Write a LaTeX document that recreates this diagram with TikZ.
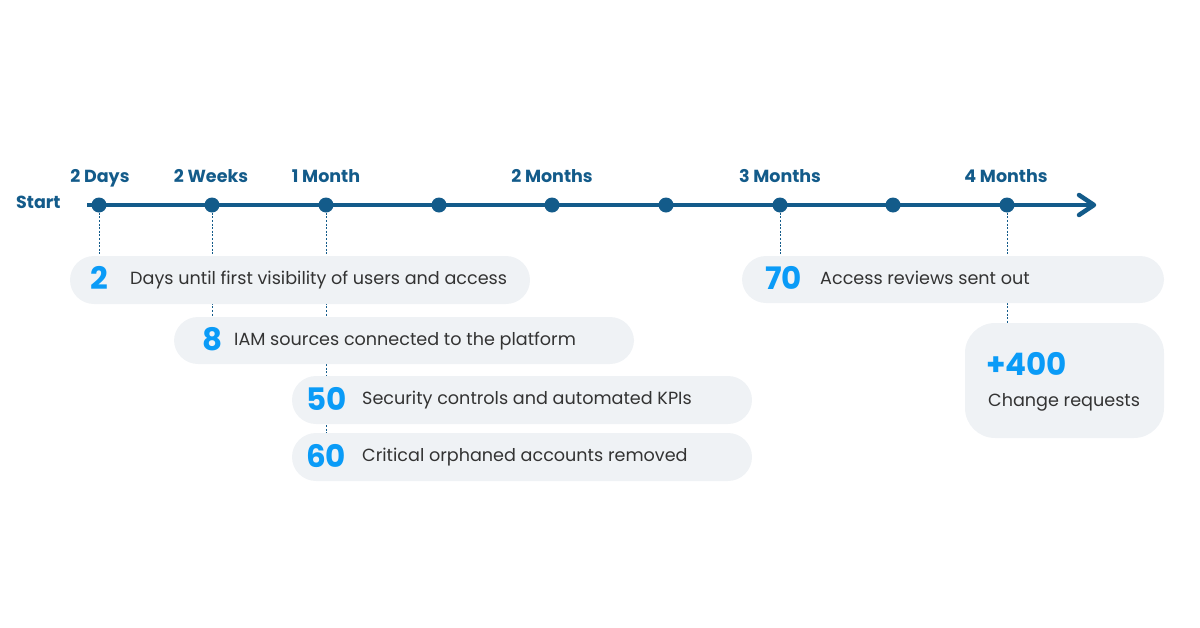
\documentclass[tikz,border=0pt]{standalone}
\usepackage{fontspec}
\setmainfont{Poppins}
\usetikzlibrary{backgrounds,calc}
\definecolor{tl}{HTML}{135B8A}
\definecolor{boxfill}{HTML}{EFF2F5}
\definecolor{numblue}{HTML}{0A9BF7}
\definecolor{txt}{HTML}{333333}
\tikzset{
  dot/.style={circle,fill=tl,inner sep=0pt,minimum size=15pt},
  tlabel/.style={font=\fontsize{17.5}{19}\selectfont\bfseries,text=tl,inner sep=0pt,anchor=base},
  card/.style={fill=boxfill,rounded corners=24pt,inner sep=0pt},
  num/.style={font=\fontsize{31}{34}\selectfont\bfseries,text=numblue,inner sep=0pt,anchor=base west},
  desc/.style={font=\fontsize{17.6}{20}\selectfont,text=txt,inner sep=0pt,anchor=base west},
  link/.style={tl,line width=0.8pt,dash pattern=on 2pt off 1.6pt}
}
\begin{document}
\begin{tikzpicture}[x=1pt,y=-1pt]
\useasboundingbox (0,0) rectangle (1200,627);
% timeline
\coordinate (tstart) at (87,205);
\coordinate (ttip) at (1094,205);
\draw[tl,line width=4.5pt] (tstart) -- ($(ttip)+(-3,0)$);
\draw[tl,line width=4.5pt,line cap=round,line join=round] ($(ttip)+(-15,-10)$) coordinate (aw1) -- (ttip) -- ($(ttip)+(-15,10)$) coordinate (aw2);
\foreach \i/\x in {1/99,2/212,3/326,4/439,5/552,6/666,7/780,8/893,9/1007}
  \node[dot] (d\i) at (\x,205) {};
\node[tlabel,anchor=base west] (start) at (16,208) {Start};
\node[tlabel] (l1) at (100,182) {2 Days};
\node[tlabel] (l2) at (211,182) {2 Weeks};
\node[tlabel] (l3) at (326,182) {1 Month};
\node[tlabel] (l5) at (552,182) {2 Months};
\node[tlabel] (l7) at (780,182) {3 Months};
\node[tlabel] (l9) at (1006,182) {4 Months};
% cards
\node[card,minimum width=460pt,minimum height=48pt] (b1) at (300,280) {};
\node[card,minimum width=460pt,minimum height=47pt] (b2) at (404,340.5) {};
\node[card,minimum width=460pt,minimum height=48pt] (b3) at (522,400) {};
\node[card,minimum width=460pt,minimum height=48pt] (b4) at (522,457) {};
\node[card,minimum width=422pt,minimum height=47pt] (b5) at (953,279.5) {};
\node[card,rounded corners=30pt,minimum width=199pt,minimum height=115pt] (b6) at (1064.5,380.5) {};
% texts
\node[num] (n1) at (90,289) {2};
\node[desc] (t1) at (130,284) {Days until first visibility of users and access};
\node[num] (n2) at (202,350) {8};
\node[desc] (t2) at (234,345) {IAM sources connected to the platform};
\node[num] (n3) at (306,410) {50};
\node[desc] (t3) at (362,404.5) {Security controls and automated KPIs};
\node[num] (n4) at (306,467) {60};
\node[desc] (t4) at (362,461.5) {Critical orphaned accounts removed};
\node[num] (n5) at (765,289.5) {70};
\node[desc] (t5) at (820,284.5) {Access reviews sent out};
\node[num] (n6) at (986,375) {+400};
\node[desc] (t6) at (988,406) {Change requests};
% dashed connectors
\begin{scope}[on background layer]
\draw[link] (d1) -- (d1 |- b1.north);
\draw[link] (d2) -- (d2 |- b2.north);
\draw[link] (d3) -- (d3 |- b4.north);
\draw[link] (d7) -- (d7 |- b5.north);
\draw[link] (d9) -- (d9 |- b6.north);
\end{scope}
\end{tikzpicture}
\end{document}
